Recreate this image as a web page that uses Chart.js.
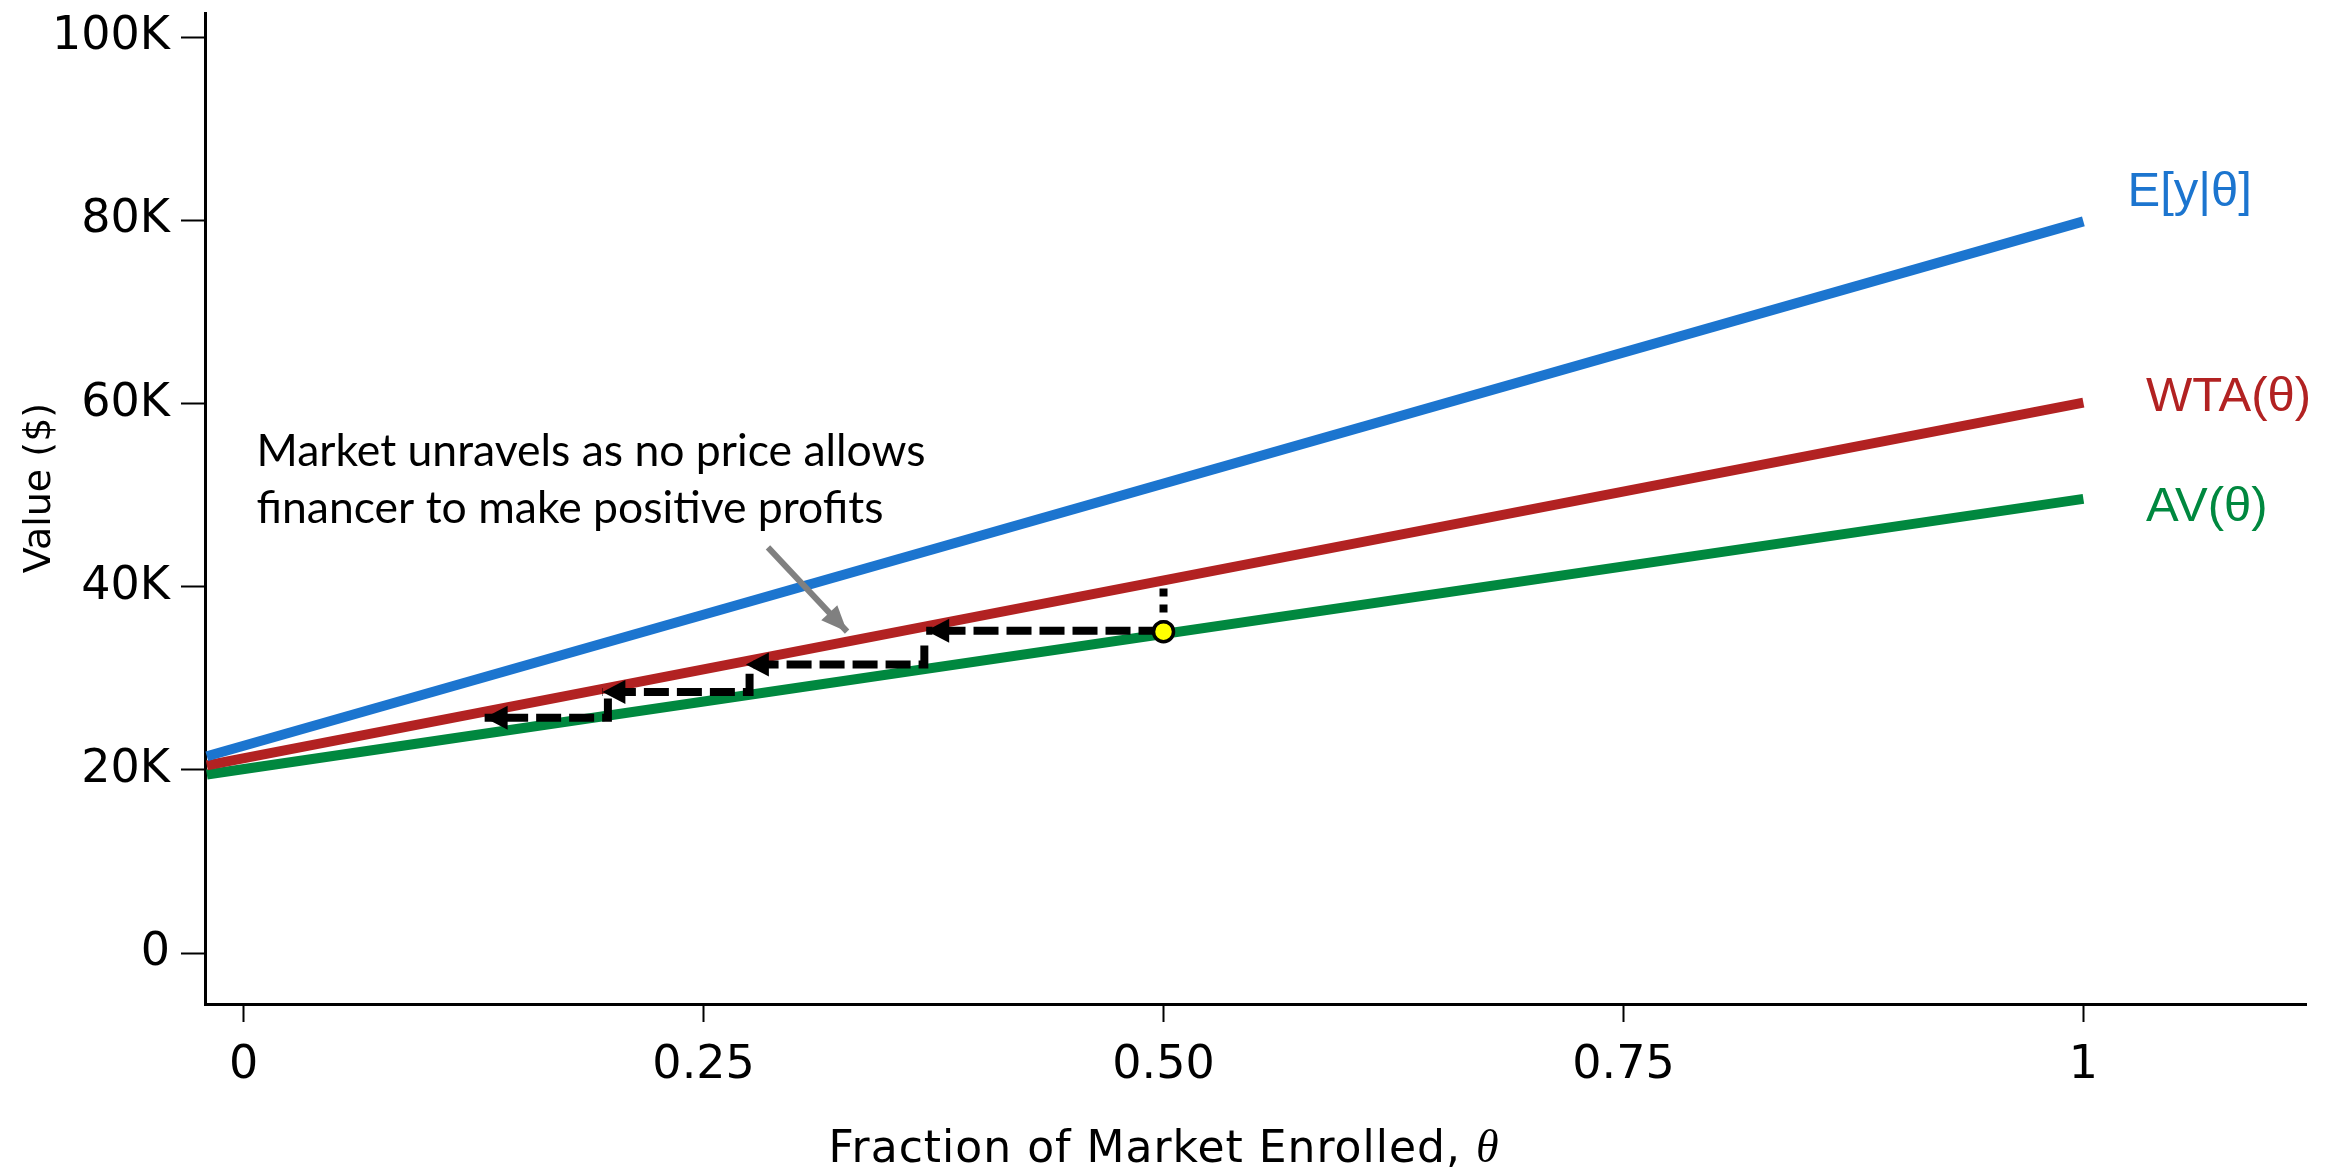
<!DOCTYPE html>
<html>
<head>
<meta charset="utf-8">
<script src="https://cdn.jsdelivr.net/npm/chart.js@4.4.1/dist/chart.umd.min.js"></script>
<style>
  html, body { margin: 0; padding: 0; background: #fff; }
  #wrap { width: 2338px; height: 1174px; }
</style>
</head>
<body>
<div id="wrap"><canvas id="chart" width="2338" height="1174"></canvas></div>
<script>
// DADOS
const thetaEnds = [-0.02, 1];
const expectedY = [21500, 79900];   // E[y|θ]
const wtaY = [20500, 60100];        // WTA(θ)
const avY = [19500, 49600];         // AV(θ)

// escada de desenrolar do mercado (θ, valor)
const stepTheta = [[0.5, 0.371], [0.370, 0.370, 0.273], [0.275, 0.275, 0.195], [0.198, 0.198, 0.131]];
const stepValue = [[35200, 35200], [33600, 31500, 31500], [30500, 28500, 28500], [27800, 25700, 25700]];
const pinTheta = [0.5, 0.5];
const pinValue = [39800, 35600];
const pointTheta = [0.5];
const pointValue = [35100];
const noteArrowTheta = [0.285, 0.328];
const noteArrowValue = [44300, 35100];

const xTickValues = [0, 0.25, 0.5, 0.75, 1];
const xTickLabels = ['0', '0.25', '0.50', '0.75', '1'];
const yTickValues = [0, 20000, 40000, 60000, 80000, 100000];
const yTickLabels = ['0', '20K', '40K', '60K', '80K', '100K'];

const noteLines = ['Market unravels as no price allows', 'financer to make positive profits'];
const noteTheta = 0.007;
const noteValue = [53200, 47000];
const seriesLabels = ['E[y|θ]', 'WTA(θ)', 'AV(θ)'];
const labelTheta = [1.024, 1.034, 1.034];
const labelValue = [81600, 59200, 47200];

const BLUE = '#1C75CF', RED = '#B22222', GREEN = '#00883F';

const pts = (xs, ys) => xs.map((x, i) => ({ x: x, y: ys[i] }));

const datasets = [
    { data: pts(pointTheta, pointValue), pointRadius: 10, pointBorderWidth: 3.5, pointBackgroundColor: '#FFFF00', pointBorderColor: '#000', showLine: false, order: 0 },
    { data: pts(pinTheta, pinValue), borderColor: '#000', borderWidth: 8, borderDash: [8, 8], pointRadius: 0, order: 1 },
    { data: pts(noteArrowTheta, noteArrowValue), borderColor: '#808080', borderWidth: 6, pointRadius: 0, order: 1, arrow: { len: 26, half: 11 } }
];
stepTheta.forEach((xs, i) => {
    datasets.push({ data: pts(xs, stepValue[i]), borderColor: '#000', borderWidth: 8, borderDash: [25, 8], pointRadius: 0, order: 1, arrow: { len: 23, half: 12 } });
});
datasets.push({ data: pts(thetaEnds, expectedY), borderColor: BLUE, borderWidth: 10, pointRadius: 0, order: 3 });
datasets.push({ data: pts(thetaEnds, wtaY), borderColor: RED, borderWidth: 10, pointRadius: 0, order: 3 });
datasets.push({ data: pts(thetaEnds, avY), borderColor: GREEN, borderWidth: 10, pointRadius: 0, order: 3 });

// SETAS, TEXTOS E TITULOS
const overlay = {
    id: 'overlay',
    afterDatasetsDraw(chart) {
        const ctx = chart.ctx;
        const xs = chart.scales.x, ys = chart.scales.y;
        ctx.save();
        chart.data.datasets.forEach((ds, i) => {
            if (!ds.arrow) return;
            const d = chart.getDatasetMeta(i).data;
            const tip = d[d.length - 1], prev = d[d.length - 2];
            const a = Math.atan2(tip.y - prev.y, tip.x - prev.x);
            ctx.save();
            ctx.translate(tip.x, tip.y);
            ctx.rotate(a);
            ctx.fillStyle = ds.borderColor;
            ctx.beginPath();
            ctx.moveTo(0, 0);
            ctx.lineTo(-ds.arrow.len, -ds.arrow.half);
            ctx.lineTo(-ds.arrow.len, ds.arrow.half);
            ctx.closePath();
            ctx.fill();
            ctx.restore();
        });

        ctx.fillStyle = '#000';
        ctx.textAlign = 'left';
        ctx.textBaseline = 'alphabetic';
        ctx.font = '44.5px Lato';
        noteLines.forEach((t, i) => ctx.fillText(t, xs.getPixelForValue(noteTheta), ys.getPixelForValue(noteValue[i])));

        ctx.font = '49px "Liberation Sans"';
        [BLUE, RED, GREEN].forEach((c, i) => {
            ctx.fillStyle = c;
            ctx.fillText(seriesLabels[i], xs.getPixelForValue(labelTheta[i]), ys.getPixelForValue(labelValue[i]));
        });

        // titulo do eixo y
        ctx.fillStyle = '#000';
        ctx.save();
        ctx.translate(50, 488);
        ctx.rotate(-Math.PI / 2);
        ctx.textAlign = 'center';
        ctx.font = '38px "DejaVu Sans"';
        ctx.fillText('Value ($)', 0, 0);
        ctx.restore();

        // titulo do eixo x, com θ em italico
        const main = 'Fraction of Market Enrolled, ';
        ctx.font = '44px "DejaVu Sans"';
        ctx.letterSpacing = '1px';
        const w1 = ctx.measureText(main).width;
        ctx.font = 'italic 46px "Liberation Serif"';
        ctx.letterSpacing = '0px';
        const w2 = ctx.measureText('θ').width;
        const x0 = xs.getPixelForValue(0.5) - (w1 + w2) / 2;
        ctx.font = '44px "DejaVu Sans"';
        ctx.letterSpacing = '1px';
        ctx.fillText(main, x0, 1162);
        ctx.font = 'italic 46px "Liberation Serif"';
        ctx.letterSpacing = '0px';
        ctx.fillText('θ', x0 + w1, 1162);
        ctx.restore();
    }
};

const tickFont = { family: 'DejaVu Sans', size: 46 };

new Chart(document.getElementById('chart'), {
    type: 'line',
    data: { datasets: datasets },
    plugins: [overlay],
    options: {
        responsive: false,
        animation: false,
        devicePixelRatio: 1,
        layout: { padding: { top: 12, right: 32, left: 0, bottom: 0 } },
        plugins: { legend: { display: false }, tooltip: { enabled: false } },
        elements: { line: { tension: 0, borderCapStyle: 'butt' } },
        scales: {
            x: {
                type: 'linear', min: -0.021, max: 1.121,
                afterBuildTicks: s => { s.ticks = xTickValues.map(v => ({ value: v })); },
                afterFit: s => { s.height = 170; s.paddingLeft = 0; s.paddingRight = 0; },
                ticks: { font: tickFont, color: '#000', padding: 16, maxRotation: 0, autoSkip: false,
                         callback: (v, i) => xTickLabels[i] },
                grid: { drawOnChartArea: false, drawTicks: true, tickLength: 18, tickWidth: 2, tickColor: '#000' },
                border: { display: true, color: '#000', width: 3 }
            },
            y: {
                type: 'linear', min: -5560, max: 102600,
                afterBuildTicks: s => { s.ticks = yTickValues.map(v => ({ value: v })); },
                afterFit: s => { s.width = 205; s.paddingTop = 0; s.paddingBottom = 0; },
                ticks: { font: tickFont, color: '#000', padding: 11, autoSkip: false,
                         callback: (v, i) => yTickLabels[i] },
                grid: { drawOnChartArea: false, drawTicks: true, tickLength: 24, tickWidth: 2, tickColor: '#000' },
                border: { display: true, color: '#000', width: 3 }
            }
        }
    }
});
</script>
</body>
</html>
